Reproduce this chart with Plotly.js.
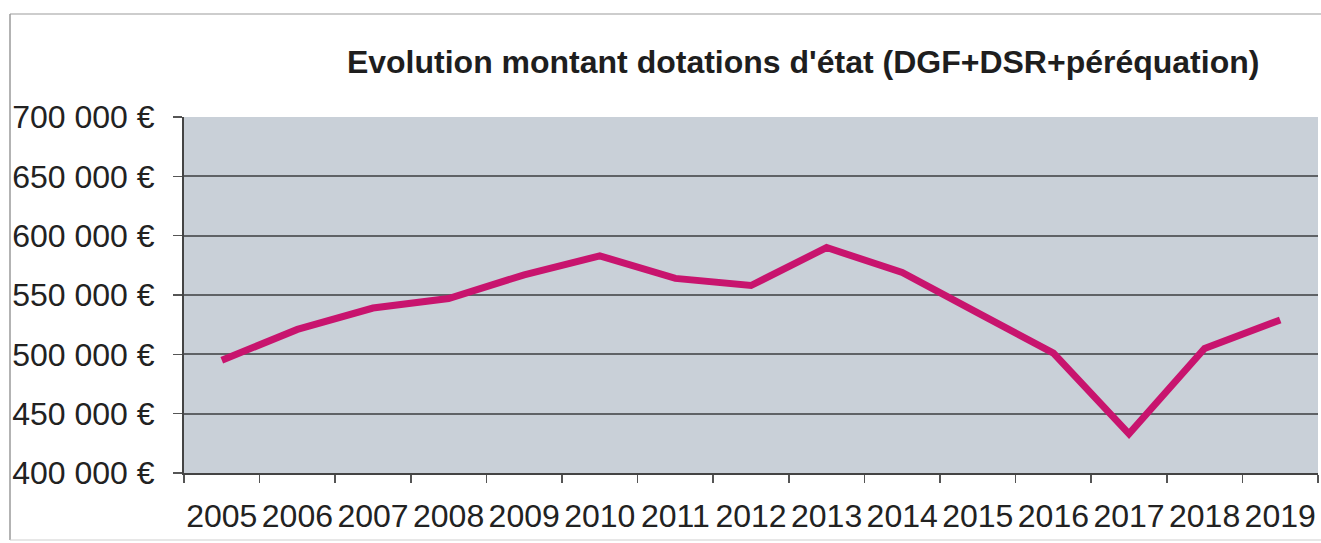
<!DOCTYPE html>
<html>
<head>
<meta charset="utf-8">
<script src="https://cdn.plot.ly/plotly-3.0.1.min.js"></script>
<style>html,body{margin:0;padding:0;background:#fff;}#chart{width:1321px;height:543px;}</style>
</head>
<body>
<div id="chart"></div>
<script>
const years = ["2005","2006","2007","2008","2009","2010","2011","2012","2013","2014","2015","2016","2017","2018","2019"];
const dotations = [495000, 521000, 539000, 547000, 567000, 583000, 564000, 558000, 590000, 569000, 535000, 501000, 433000, 505000, 529000];
const yTickVals = [400000, 450000, 500000, 550000, 600000, 650000, 700000];
const yTickText = ["400 000 €", "450 000 €", "500 000 €", "550 000 €", "600 000 €", "650 000 €", "700 000 €"];
const chartTitle = "Evolution montant dotations d'état (DGF+DSR+péréquation)";

const trace = {
  x: years,
  y: dotations,
  type: "scatter",
  mode: "lines",
  line: {color: "#C8146E", width: 7},
  hoverinfo: "x+y"
};

const layout = {
  width: 1321,
  height: 543,
  margin: {l: 184, r: 3, t: 117, b: 70},
  paper_bgcolor: "#ffffff",
  plot_bgcolor: "#C9D0D8",
  showlegend: false,
  font: {family: "Liberation Sans, Arial, sans-serif", color: "#222"},
  title: {
    text: "<b>" + chartTitle + "</b>",
    font: {size: 32, color: "#1e1e1e", family: "Liberation Sans, Arial, sans-serif"},
    xref: "container", x: 0.608, xanchor: "center",
    yref: "container", y: 0.886, yanchor: "middle"
  },
  xaxis: {
    type: "category",
    tickson: "boundaries",
    ticks: "outside",
    ticklen: 8,
    tickwidth: 1.5,
    tickcolor: "#555",
    showline: true,
    linecolor: "#444",
    linewidth: 2,
    showgrid: false,
    zeroline: false,
    tickangle: 0,
    tickfont: {size: 32, color: "#222"},
    ticklabelstandoff: 14,
    range: [-0.5, 14.5]
  },
  yaxis: {
    range: [400000, 700000],
    tickvals: yTickVals,
    ticktext: yTickText,
    ticks: "outside",
    ticklen: 9,
    tickwidth: 1.5,
    tickcolor: "#555",
    showline: true,
    linecolor: "#444",
    linewidth: 2,
    showgrid: true,
    gridcolor: "#5f6266",
    gridwidth: 2,
    zeroline: false,
    tickfont: {size: 32, color: "#222"},
    ticklabelstandoff: 12
  },
  shapes: [
    {type: "line", xref: "paper", yref: "paper",
     x0: -174/1134, x1: 1.003, y0: 1 + 103/356, y1: 1 + 103/356,
     line: {color: "#bdbdbd", width: 1.5}},
    {type: "line", xref: "paper", yref: "paper",
     x0: -174/1134, x1: -174/1134, y0: 1 + 103/356, y1: -67/356,
     line: {color: "#9a9a9a", width: 1.5}},
    {type: "line", xref: "paper", yref: "paper",
     x0: -174/1134, x1: 1.003, y0: -67/356, y1: -67/356,
     line: {color: "#cfcfcf", width: 1}}
  ]
};

Plotly.newPlot("chart", [trace], layout, {displayModeBar: false, staticPlot: true});
</script>
</body>
</html>
